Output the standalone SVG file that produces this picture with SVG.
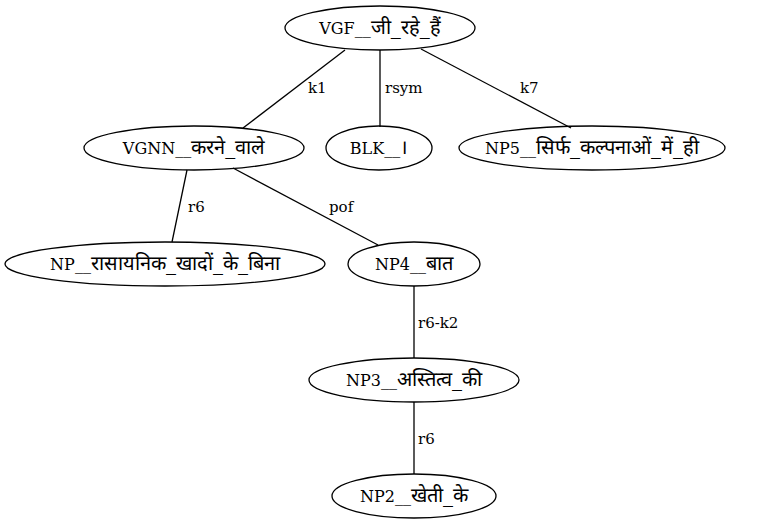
<svg xmlns="http://www.w3.org/2000/svg" width="768" height="528" viewBox="0 0 768 528">
<style>
.n ellipse{fill:none;stroke:#000;stroke-width:1.3}
text{font-family:'DejaVu Serif',serif;font-size:15px;fill:#000}
.n text{text-anchor:middle;font-size:16px}
.d{font-size:20px}
.e line{stroke:#000;stroke-width:1.3}
</style>
<rect width="768" height="528" fill="#fff"/>
<g class="e" id="edges">
<line x1="345" y1="50" x2="243" y2="128"/>
<line x1="380" y1="50" x2="380" y2="127"/>
<line x1="421" y1="49" x2="571" y2="128"/>
<line x1="187" y1="170" x2="172" y2="242"/>
<line x1="233" y1="168" x2="378" y2="245"/>
<line x1="414" y1="286" x2="414" y2="358"/>
<line x1="414" y1="402" x2="414" y2="474"/>
<text x="308" y="93">k1</text>
<text x="385" y="93">rsym</text>
<text x="520" y="93">k7</text>
<text x="188" y="212">r6</text>
<text x="329" y="212">pof</text>
<text x="418" y="328">r6-k2</text>
<text x="418" y="444">r6</text>
</g>
<g class="n" id="n_vgf"><ellipse cx="380" cy="28" rx="95" ry="22"/><text x="380" y="34">VGF__<tspan class="d">जी_रहे_हैं</tspan></text></g>
<g class="n" id="n_vgnn"><ellipse cx="194" cy="148" rx="110" ry="22"/><text x="194" y="154">VGNN__<tspan class="d">करने_वाले</tspan></text></g>
<g class="n" id="n_blk"><ellipse cx="379" cy="148" rx="53" ry="22"/><text x="379" y="154">BLK__<tspan class="d">।</tspan></text></g>
<g class="n" id="n_np5"><ellipse cx="592" cy="148" rx="133" ry="22"/><text x="592" y="154">NP5__<tspan class="d">सिर्फ_कल्पनाओं_में_ही</tspan></text></g>
<g class="n" id="n_np"><ellipse cx="165" cy="264" rx="160" ry="22"/><text x="165" y="270">NP__<tspan class="d">रासायनिक_खादों_के_बिना</tspan></text></g>
<g class="n" id="n_np4"><ellipse cx="414" cy="264" rx="66" ry="22"/><text x="414" y="270">NP4__<tspan class="d">बात</tspan></text></g>
<g class="n" id="n_np3"><ellipse cx="414" cy="380" rx="105" ry="22"/><text x="414" y="386">NP3__<tspan class="d">अस्तित्व_की</tspan></text></g>
<g class="n" id="n_np2"><ellipse cx="414" cy="496" rx="82" ry="22"/><text x="414" y="502">NP2__<tspan class="d">खेती_के</tspan></text></g>
</svg>
